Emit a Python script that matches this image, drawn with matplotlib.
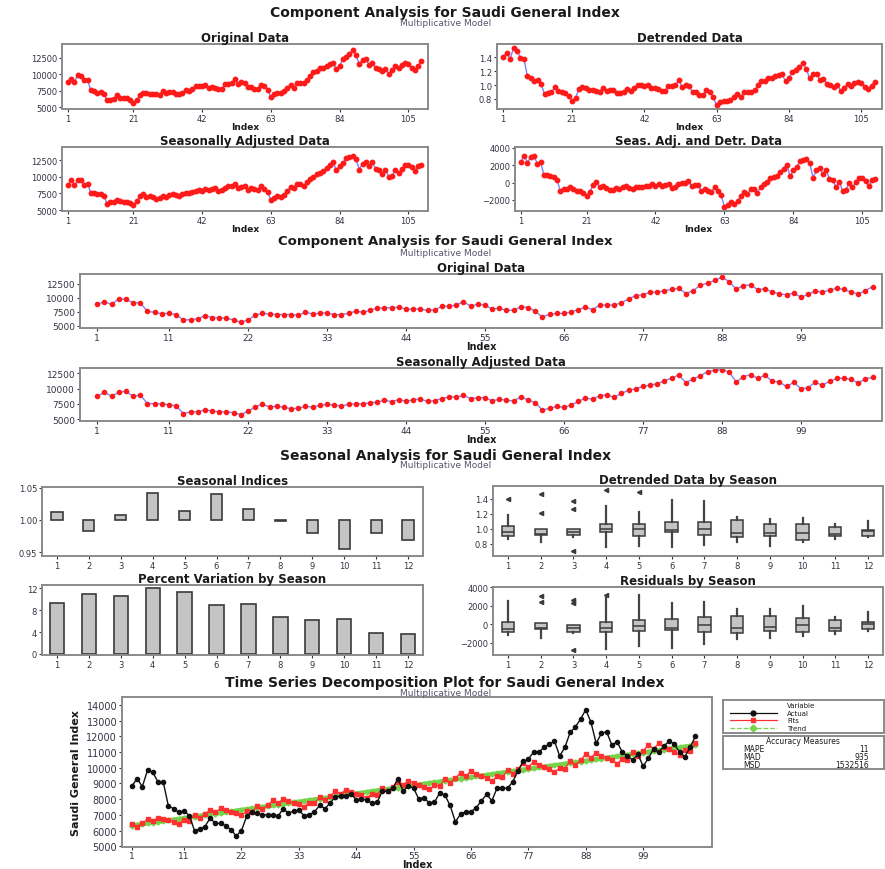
import numpy as np
import matplotlib
matplotlib.use("Agg")
import matplotlib.pyplot as plt

# Monthly Saudi General Index values
index = np.arange(1, 110)
actual = np.array([
    8850, 9300, 8800, 9850, 9700, 9100, 9100, 7550, 7400, 7150,
    7250, 6950, 6000, 6100, 6250, 6800, 6450, 6450, 6300, 6050,
    5650, 6000, 6900, 7200, 7100, 7000, 7000, 7000, 6900, 7400,
    7100, 7250, 7300, 6950, 7000, 7200, 7600, 7400, 7750, 8150,
    8200, 8200, 8350, 7950, 8000, 7950, 7750, 7800, 8500, 8500,
    8700, 9300, 8500, 8850, 8700, 8000, 8100, 7750, 7800, 8400,
    8250, 7600, 6550, 7050, 7200, 7200, 7450, 7900, 8300, 7900,
    8700, 8700, 8700, 9100, 9800, 10400, 10550, 11000, 11000, 11300,
    11500, 11700, 10750, 11300, 12250, 12600, 13100, 13700, 12900, 11550,
    12200, 12300, 11450, 11650, 11000, 10750, 10500, 10850, 10100, 10600,
    11200, 11000, 11400, 11700, 11500, 11000, 10700, 11300, 12000,
])

seasons = list(range(1, 13))
seasonal_indices = [1.013, 0.983, 1.008, 1.042, 1.014, 1.040,
                    1.017, 0.999, 0.980, 0.955, 0.980, 0.969]
percent_variation = [9.3, 11.0, 10.6, 12.0, 11.4, 8.9,
                     9.2, 6.7, 6.2, 6.4, 3.9, 3.7]

legend_labels = ["Actual", "Fits", "Trend"]
accuracy_labels = ["MAPE", "MAD", "MSD"]
accuracy_values = ["11", "935", "1532516"]

main_title = "Component Analysis for Saudi General Index"
seas_title = "Seasonal Analysis for Saudi General Index"
ts_title = "Time Series Decomposition Plot for Saudi General Index"
subtitle = "Multiplicative Model"

# derived components (linear trend + multiplicative seasonal indices)
slope, intercept = np.polyfit(index, actual, 1)
trend = intercept + slope * index
si = np.array(seasonal_indices)[(index - 1) % 12]
fits = trend * si
detrended = actual / trend
seas_adj = actual / si
seas_adj_detr = seas_adj - trend
residuals = actual - fits

W, H = 885, 870
fig = plt.figure(figsize=(W / 100, H / 100), dpi=100)

TXT = "#1a1a1a"
SUB = "#55556e"
TICK = "#333344"
SPINE = "#8a8a8a"
BAR = "#c4c4c4"
EDGE = "#3a3a3a"
C_ACT, C_FIT, C_TRD = "#111111", "#ff3030", "#74d44a"


def rect(left, top, right, bottom):
    return [left / W, 1 - bottom / H, (right - left) / W, (bottom - top) / H]


def style(ax, fs):
    for s in ax.spines.values():
        s.set_color(SPINE)
        s.set_linewidth(1.4)
    ax.tick_params(labelsize=fs, colors=TICK, length=2.5, width=0.8, pad=1)


def fig_title(y_px, text, sub_y_px, fs=10):
    fig.text(0.503, 1 - y_px / H, text, ha="center", va="center",
             fontsize=fs, fontweight="bold", color=TXT)
    fig.text(0.503, 1 - sub_y_px / H, subtitle, ha="center", va="center",
             fontsize=6.5, color=SUB)


def series_panel(r, y, title, xticks, xlim, ylim, yticks, fs=6, tfs=8.5, ms=3.2,
                 lpad=-0.5):
    ax = fig.add_axes(r)
    ax.plot(index, y, color="#8080ff", lw=1.0, zorder=1)
    ax.plot(index, y, "o", color="#ff1a1a", ms=ms, mec="#ff1a1a", zorder=2)
    ax.set_xticks(xticks)
    ax.set_xlim(*xlim)
    ax.set_ylim(*ylim)
    ax.set_yticks(yticks)
    ax.set_title(title, fontsize=tfs, fontweight="bold", color=TXT, pad=2)
    ax.set_xlabel("Index", fontsize=fs + 0.5, fontweight="bold", color=TXT, labelpad=lpad)
    style(ax, fs)
    return ax


# ---- Section 1: small component panels
fig_title(13, main_title, 23)
ticks21 = [1, 21, 42, 63, 84, 105]
series_panel(rect(62, 45, 428, 110), actual, "Original Data", ticks21,
             (-0.8, 111), (4700, 14600), [5000, 7500, 10000, 12500])
series_panel(rect(497, 45, 882, 110), detrended, "Detrended Data", ticks21,
             (-0.8, 111), (0.657, 1.586), [0.8, 1.0, 1.2, 1.4])
series_panel(rect(62, 148, 428, 212), seas_adj, "Seasonally Adjusted Data", ticks21,
             (-0.8, 111), (4850, 14500), [5000, 7500, 10000, 12500])
series_panel(rect(515, 148, 882, 212), seas_adj_detr, "Seas. Adj. and Detr. Data", ticks21,
             (-0.8, 111), (-3270, 4115), [-2000, 0, 2000, 4000])

# ---- Section 2: wide component panels
fig_title(242, main_title, 253, fs=9.5)
ticks11 = [1, 11, 22, 33, 44, 55, 66, 77, 88, 99]
series_panel(rect(80, 275, 882, 329), actual, "Original Data", ticks11,
             (-1.4, 110.3), (4590, 14260), [5000, 7500, 10000, 12500],
             fs=6.5, tfs=8.5, ms=3)
series_panel(rect(80, 369, 882, 422), seas_adj, "Seasonally Adjusted Data", ticks11,
             (-1.4, 110.3), (4700, 13400), [5000, 7500, 10000, 12500],
             fs=6.5, tfs=8.5, ms=3)

# ---- Section 3: seasonal analysis
fig_title(456, seas_title, 466)

ax = fig.add_axes(rect(42, 488, 423, 557))
ax.bar(seasons, np.array(seasonal_indices) - 1.0, bottom=1.0, width=0.35,
       color=BAR, edgecolor=EDGE, linewidth=1.2)
ax.set_xlim(0.53, 12.47)
ax.set_ylim(0.944, 1.051)
ax.set_yticks([0.95, 1.00, 1.05])
ax.set_yticklabels(["0.95", "1.00", "1.05"])
ax.set_xticks(seasons)
ax.set_title("Seasonal Indices", fontsize=8.5, fontweight="bold", color=TXT, pad=2)
style(ax, 6)

ax = fig.add_axes(rect(42, 586, 423, 656))
ax.bar(seasons, percent_variation, width=0.45, color=BAR, edgecolor=EDGE, linewidth=1.2)
ax.set_xlim(0.53, 12.47)
ax.set_ylim(-0.2, 12.6)
ax.set_yticks([0, 4, 8, 12])
ax.set_xticks(seasons)
ax.set_title("Percent Variation by Season", fontsize=8.5, fontweight="bold", color=TXT, pad=2)
style(ax, 6)


def season_boxes(r, values, title, ylim, yticks):
    ax = fig.add_axes(r)
    groups = [values[(index - 1) % 12 == k] for k in range(12)]
    ax.boxplot(groups, positions=seasons, widths=0.38, patch_artist=True, whis=2.5,
               boxprops=dict(facecolor=BAR, edgecolor=EDGE, linewidth=1.1),
               medianprops=dict(color=EDGE, linewidth=1.1),
               whiskerprops=dict(color="#444444", linewidth=1.6),
               capprops=dict(linewidth=0),
               flierprops=dict(marker="<", markersize=3, markerfacecolor=EDGE,
                               markeredgecolor=EDGE))
    ax.set_xlim(0.54, 12.46)
    ax.set_ylim(*ylim)
    ax.set_yticks(yticks)
    ax.set_xticks(seasons)
    ax.set_xticklabels([str(s) for s in seasons])
    ax.set_title(title, fontsize=8.5, fontweight="bold", color=TXT, pad=2)
    style(ax, 6)
    return ax


season_boxes(rect(493, 487, 883, 557), detrended, "Detrended Data by Season",
             (0.64, 1.573), [0.8, 1.0, 1.2, 1.4])
season_boxes(rect(493, 588, 883, 656), residuals, "Residuals by Season",
             (-3290, 4000), [-2000, 0, 2000, 4000])

# ---- Section 4: decomposition plot
fig_title(683, ts_title, 694)
ax = fig.add_axes(rect(122, 698, 712, 848))
ax.plot(index, trend, color=C_TRD, lw=3.2, marker="D", ms=2.5, zorder=1)
ax.plot(index, fits, color=C_FIT, lw=0.9, marker="s", ms=3.2, zorder=2)
ax.plot(index, actual, color=C_ACT, lw=1.0, marker="o", ms=3.0, zorder=3)
ax.set_xlim(-0.9, 112.2)
ax.set_ylim(4950, 14510)
ax.set_yticks(range(5000, 14001, 1000))
ax.set_xticks(ticks11)
ax.set_xlabel("Index", fontsize=7, fontweight="bold", color=TXT, labelpad=-0.5)
ax.set_ylabel("Saudi General Index", fontsize=8, fontweight="bold",
              family=["Liberation Sans Narrow", "DejaVu Sans"], color=TXT, labelpad=4)
style(ax, 7)
ax.tick_params(axis="x", labelsize=6.5, pad=0.5)

# legend box (drawn in pixel coordinates)
lg = fig.add_axes(rect(723, 701, 884, 734))
lg.set_xlim(723, 884)
lg.set_ylim(734, 701)
lg.set_xticks([])
lg.set_yticks([])
for s in lg.spines.values():
    s.set_color(SPINE)
    s.set_linewidth(1.4)
lg.text(787, 706.5, "Variable", fontsize=5, va="center", ha="left", color=TXT)
styles = [(C_ACT, "-", "o"), (C_FIT, "-", "s"), (C_TRD, "--", "D")]
for i, (lab, (c, ls, mk)) in enumerate(zip(legend_labels, styles)):
    yy = 714 + i * 7.4
    lg.plot([730, 777], [yy, yy], color=c, ls=ls, lw=0.9)
    lg.plot([753], [yy], marker=mk, color=c, ms=3.5)
    lg.text(787, yy, lab, fontsize=5, va="center", ha="left", color=TXT)

# accuracy measures box
ac = fig.add_axes(rect(723, 737, 884, 770))
ac.set_xlim(723, 884)
ac.set_ylim(770, 737)
ac.set_xticks([])
ac.set_yticks([])
for s in ac.spines.values():
    s.set_color(SPINE)
    s.set_linewidth(1.4)
ac.text(803, 742, "Accuracy Measures", fontsize=5.5, va="center", ha="center", color=TXT)
for i, (lab, val) in enumerate(zip(accuracy_labels, accuracy_values)):
    yy = 749.5 + i * 8.2
    ac.text(743, yy, lab, fontsize=5.5, va="center", ha="left", color=TXT)
    ac.text(869, yy, val, fontsize=5.5, va="center", ha="right", color=TXT)

fig.savefig("out.png", dpi=100)
plt.close(fig)
